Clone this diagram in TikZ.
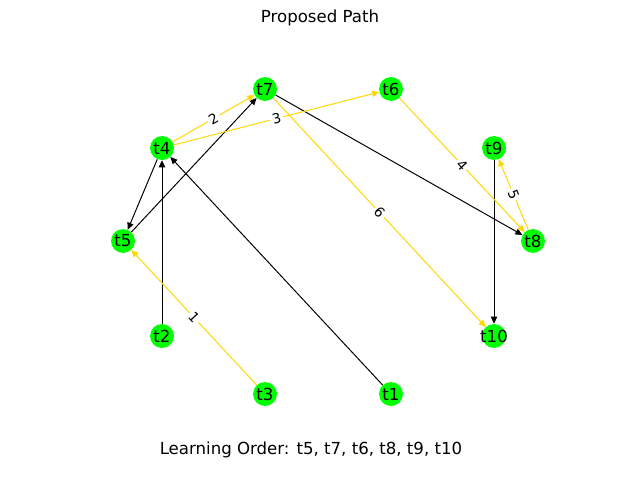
\documentclass[tikz,border=0pt]{standalone}
\usepackage{fontspec}
\setmainfont{DejaVu Sans}
\usetikzlibrary{arrows.meta}
\definecolor{taskgreen}{HTML}{00FF00}
\definecolor{pathgold}{HTML}{FFD700}
\tikzset{
  task/.style={circle, fill=taskgreen, minimum size=17pt, inner sep=0pt,
    label={[font=\fontsize{11.8}{14}\selectfont, inner sep=0pt]center:#1}},
  link/.style={-{Triangle[length=5pt,width=4.5pt]}, line width=0.7pt, black},
  proposed/.style={link, pathgold},
  weight/.style={midway, sloped, fill=white, inner sep=1.5pt, text=black, font=\fontsize{9.8}{12}\selectfont}
}

\begin{document}
\begin{tikzpicture}[x=0.025cm,y=-0.025cm]
\useasboundingbox (0,0) rectangle (640,480);
% the tasks
\node[task=t7] (t7) at (265,89) {};
\node[task=t6] (t6) at (391,89) {};
\node[task=t4] (t4) at (162,148) {};
\node[task=t9] (t9) at (494,148) {};
\node[task=t5] (t5) at (123,241) {};
\node[task=t8] (t8) at (533,241) {};
\node[task=t2] (t2) at (162,336) {};
\node[task=t10] (t10) at (494,336) {};
\node[task=t3] (t3) at (265,394) {};
\node[task=t1] (t1) at (391,394) {};
% prerequisites
\draw[link] (t7) -- (t8);
\draw[link] (t9) -- (t10);
\draw[link] (t1) -- (t4);
\draw[link] (t2) -- (t4);
\draw[link] (t4) -- (t5);
\draw[link] (t5) -- (t7);
% the proposed path
\draw[proposed] (t3) -- (t5) node[weight] {1};
\draw[proposed] (t4) -- (t7) node[weight] {2};
\draw[proposed] (t4) -- (t6) node[weight] {3};
\draw[proposed] (t6) -- (t8) node[weight] {4};
\draw[proposed] (t8) -- (t9) node[weight] {5};
\draw[proposed] (t7) -- (t10) node[weight] {6};
% texts
\node[font=\fontsize{11.8}{14}\selectfont] (title) at (320,18) {Proposed Path};
\node[font=\fontsize{11.8}{14}\selectfont] (order) at (311,450) {Learning Order: t5, t7, t6, t8, t9, t10};
\end{tikzpicture}
\end{document}
